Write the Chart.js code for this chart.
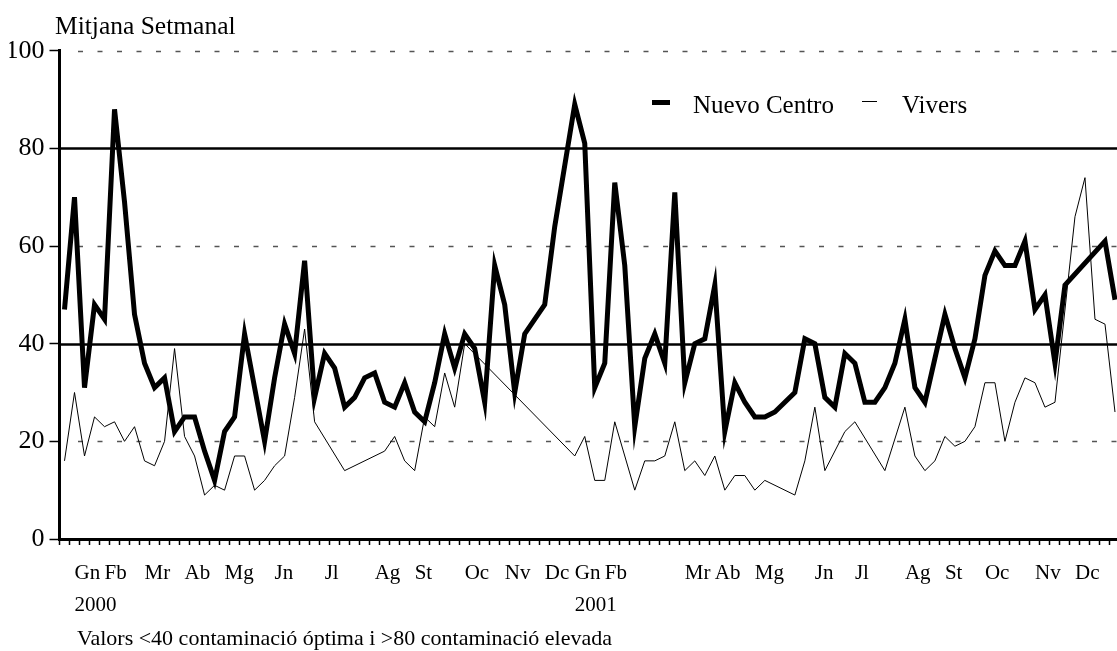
<!DOCTYPE html>
<html>
<head>
<meta charset="utf-8">
<script src="https://cdn.jsdelivr.net/npm/chart.js@4"></script>
<style>
  html, body { margin: 0; padding: 0; background: #fff; overflow: hidden; width: 1117px; height: 651px; }
</style>
</head>
<body>
<canvas id="chart" width="1120" height="651"></canvas>
<script>
// ---- Data: weekly means, Jan 2000 - Dec 2001 (null = no value that week) ----
const nuevoCentro = [
  47, 70, 31, 48, 45, 88, 69, 46, 36, 31,
  33, 22, 25, 25, 18, 12, 22, 25, 42, 31,
  20, 33, 44, 38, 57, 29, 38, 35, 27, 29,
  33, 34, 28, 27, 32, 26, 24, 32, 42, 35,
  42, 39, 28, 56, 48, 30, 42, null, 48, 64,
  null, 89, 81, 31, 36, 73, 56, 23, 37, 42,
  36, 71, 32, 40, 41, 52, 22, 32, 28, 25,
  25, 26, 28, 30, 41, 40, 29, 27, 38, 36,
  28, 28, 31, 36, 45, 31, 28, 37, 46, 39,
  33, 41, 54, 59, 56, 56, 61, 47, 50, 36,
  52, null, null, null, 61, 49
];
const vivers = [
  16, 30, 17, 25, 23, 24, 20, 23, 16, 15,
  20, 39, 21, 17, 9, 11, 10, 17, 17, 10,
  12, 15, 17, 29, 43, 24, null, null, 14, null,
  null, null, 18, 21, 16, 14, 25, 23, 34, 27,
  40, null, null, null, null, null, null, null, null, null,
  null, 17, 21, 12, 12, 24, null, 10, 16, 16,
  17, 24, 14, 16, 13, 17, 10, 13, 13, 10,
  12, null, null, 9, 16, 27, 14, null, 22, 24,
  null, null, 14, null, 27, 17, 14, 16, 21, 19,
  20, 23, 32, 32, 20, 28, 33, 32, 27, 28,
  null, 66, 74, 45, 44, 26
];

// month labels and the week index where each one is written
const months    = ['Gn','Fb','Mr','Ab','Mg','Jn','Jl','Ag','St','Oc','Nv','Dc',
                   'Gn','Fb','Mr','Ab','Mg','Jn','Jl','Ag','St','Oc','Nv','Dc'];
const monthWeek = [1, 4, 8, 12, 16, 21, 26, 31, 35, 40, 44, 48,
                   51, 54, 62, 65, 69, 75, 79, 84, 88, 92, 97, 101];
const years     = ['2000', '2001'];

const yTicks = [0, 20, 40, 60, 80, 100];
const limits = [40, 80];   // solid reference lines

const FONT = '"Liberation Serif", "Times New Roman", serif';

// category labels: empty for every week except where a month name goes
const weekLabels = nuevoCentro.map(() => '');
monthWeek.forEach((w, k) => {
  if (k === 0) weekLabels[w] = [months[k], years[0]];
  else if (k === 12) weekLabels[w] = [months[k], years[1]];
  else weekLabels[w] = months[k];
});

// horizontal guide lines (dashed) and limit lines (solid)
const guideLines = {
  id: 'guideLines',
  beforeDatasetsDraw(chart) {
    const { ctx, chartArea: a, scales: { y } } = chart;
    ctx.save();
    yTicks.forEach((v) => {
      if (v === 0) return;
      const py = Math.round(y.getPixelForValue(v)) + 0.5;
      ctx.beginPath();
      if (limits.includes(v)) {
        ctx.setLineDash([]);
        ctx.lineWidth = 2.5;
        ctx.strokeStyle = '#000';
        ctx.moveTo(a.left, py);
      } else {
        ctx.setLineDash([5, 14.5]);
        ctx.lineWidth = 1.5;
        ctx.strokeStyle = '#555';
        ctx.moveTo(a.left + 18.5, py);
      }
      ctx.lineTo(a.right, py);
      ctx.stroke();
    });
    ctx.restore();
  }
};

// title, legend and footnote
const texts = {
  id: 'texts',
  afterDraw(chart) {
    const ctx = chart.ctx;
    ctx.save();
    ctx.fillStyle = '#000';
    ctx.textBaseline = 'alphabetic';
    ctx.textAlign = 'left';
    ctx.font = '25.5px ' + FONT;
    ctx.fillText('Mitjana Setmanal', 55, 34);

    // legend
    ctx.font = '25px ' + FONT;
    ctx.fillRect(652, 100, 18, 5);
    ctx.fillText('Nuevo Centro', 693, 113);
    ctx.fillRect(862, 101, 15, 1);
    ctx.fillText('Vivers', 902, 113);

    ctx.font = '22px ' + FONT;
    ctx.fillText('Valors <40 contaminació óptima i >80 contaminació elevada', 77, 645);
    ctx.restore();
  }
};

new Chart(document.getElementById('chart'), {
  type: 'line',
  data: {
    labels: weekLabels,
    datasets: [
      {
        label: 'Nuevo Centro',
        data: nuevoCentro,
        borderColor: '#000',
        borderWidth: 5,
        pointRadius: 0,
        spanGaps: true,
        tension: 0
      },
      {
        label: 'Vivers',
        data: vivers,
        borderColor: '#000',
        borderWidth: 1,
        pointRadius: 0,
        spanGaps: true,
        tension: 0
      }
    ]
  },
  options: {
    responsive: false,
    animation: false,
    layout: { padding: { left: 9.5, top: 50.7, right: 0, bottom: 27 } },
    plugins: {
      legend: { display: false },
      tooltip: { enabled: false }
    },
    scales: {
      x: {
        offset: true,
        grid: { drawOnChartArea: false, offset: true, tickLength: 6, tickColor: '#000', tickWidth: 1.5 },
        border: { color: '#000', width: 3 },
        ticks: {
          autoSkip: false, maxRotation: 0, minRotation: 0, align: 'start',
          padding: 13, color: '#000',
          font: { family: FONT, size: 21, lineHeight: 1.52 }
        },
        afterFit(s) {
          s.height = 85;
          s.paddingLeft = 0;
          s.paddingRight = 0;
        }
      },
      y: {
        min: 0,
        max: 100,
        grid: { drawOnChartArea: false, tickLength: 10, tickColor: '#000', tickWidth: 1.5 },
        border: { color: '#000', width: 3 },
        ticks: {
          stepSize: 20, padding: 5, color: '#000',
          font: { family: FONT, size: 26 }
        },
        afterFit(s) { s.width = 50; }
      }
    }
  },
  plugins: [guideLines, texts]
});
</script>
</body>
</html>
